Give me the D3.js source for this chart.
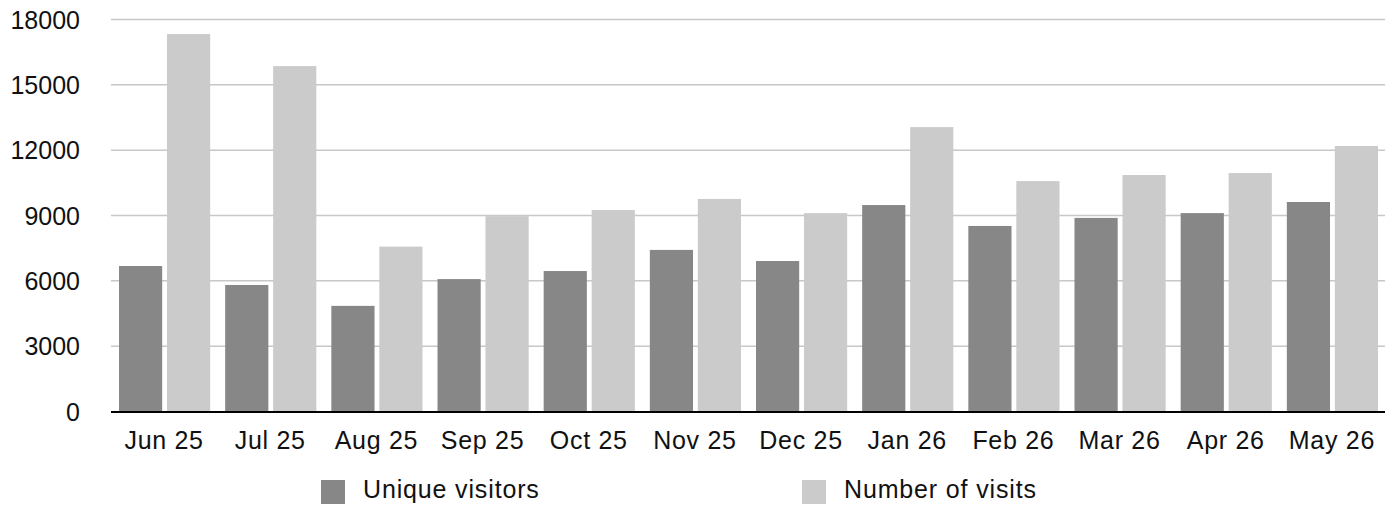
<!DOCTYPE html>
<html>
<head>
<meta charset="utf-8">
<script src="https://cdn.jsdelivr.net/npm/d3@7"></script>
<style>
  html, body { margin: 0; padding: 0; background: #fff; }
  svg { display: block; font-family: "Liberation Sans", Arial, Helvetica, sans-serif; }
</style>
</head>
<body>
<div id="chart"></div>
<script>
const months = ["Jun 25", "Jul 25", "Aug 25", "Sep 25", "Oct 25", "Nov 25",
                "Dec 25", "Jan 26", "Feb 26", "Mar 26", "Apr 26", "May 26"];
const uniqueVisitors = [6680, 5810, 4850, 6080, 6450, 7420, 6910, 9480, 8520, 8890, 9110, 9620];
const numberOfVisits = [17330, 15860, 7570, 8970, 9250, 9760, 9110, 13060, 10580, 10860, 10950, 12190];
const seriesNames = ["Unique visitors", "Number of visits"];
const yTicks = [0, 3000, 6000, 9000, 12000, 15000, 18000];

const WIDTH = 1385, HEIGHT = 506;
const PLOT = { left: 111, right: 1385, top: 19.5, bottom: 411.5 };
const COLORS = { dark: "#878787", light: "#cbcbcb", grid: "#c8c8c8", axis: "#000", text: "#111" };
const FONT_SIZE = 25;

const rows = months.map((m, i) => ({ month: m, values: [uniqueVisitors[i], numberOfVisits[i]] }));

const svg = d3.select("#chart").append("svg")
  .attr("width", WIDTH)
  .attr("height", HEIGHT);

const x0 = d3.scaleBand()
  .domain(months)
  .range([PLOT.left, PLOT.right])
  .padding(0);

const x1 = d3.scaleBand()
  .domain(d3.range(seriesNames.length))
  .range([8, x0.bandwidth() - 7])
  .paddingInner(0.1);

const y = d3.scaleLinear()
  .domain([0, 18000])
  .range([PLOT.bottom, PLOT.top]);

const color = d3.scaleOrdinal().domain(d3.range(2)).range([COLORS.dark, COLORS.light]);

// gridlines
svg.append("g")
  .selectAll("line")
  .data(yTicks.filter(d => d > 0))
  .join("line")
  .attr("x1", PLOT.left)
  .attr("x2", PLOT.right)
  .attr("y1", d => y(d))
  .attr("y2", d => y(d))
  .attr("stroke", COLORS.grid)
  .attr("stroke-width", 1.5);

// y tick labels
svg.append("g")
  .selectAll("text")
  .data(yTicks)
  .join("text")
  .attr("x", 80)
  .attr("y", d => y(d))
  .attr("dy", "0.36em")
  .attr("text-anchor", "end")
  .attr("font-size", FONT_SIZE)
  .attr("fill", COLORS.text)
  .text(d => d);

// bars
svg.append("g")
  .selectAll("g")
  .data(rows)
  .join("g")
  .attr("transform", d => `translate(${x0(d.month)},0)`)
  .selectAll("rect")
  .data(d => d.values.map((v, k) => ({ k, v })))
  .join("rect")
  .attr("x", d => x1(d.k))
  .attr("width", x1.bandwidth())
  .attr("y", d => y(d.v))
  .attr("height", d => y(0) - y(d.v))
  .attr("fill", d => color(d.k));

// baseline axis
svg.append("line")
  .attr("x1", PLOT.left)
  .attr("x2", PLOT.right)
  .attr("y1", y(0) + 0.5)
  .attr("y2", y(0) + 0.5)
  .attr("stroke", COLORS.axis)
  .attr("stroke-width", 2);

// x labels
svg.append("g")
  .selectAll("text")
  .data(months)
  .join("text")
  .attr("x", d => x0(d) + x0.bandwidth() / 2)
  .attr("y", 449)
  .attr("text-anchor", "middle")
  .attr("font-size", FONT_SIZE)
  .attr("letter-spacing", "0.7px")
  .attr("fill", COLORS.text)
  .text(d => d);

// legend
const legendX = [321, 802];
const legend = svg.append("g")
  .selectAll("g")
  .data(seriesNames)
  .join("g")
  .attr("transform", (d, i) => `translate(${legendX[i]},480)`);

legend.append("rect")
  .attr("width", 24)
  .attr("height", 24)
  .attr("fill", (d, i) => color(i));

legend.append("text")
  .attr("x", 42)
  .attr("y", 17.5)
  .attr("font-size", FONT_SIZE)
  .attr("letter-spacing", "0.85px")
  .attr("fill", COLORS.text)
  .text(d => d);
</script>
</body>
</html>
